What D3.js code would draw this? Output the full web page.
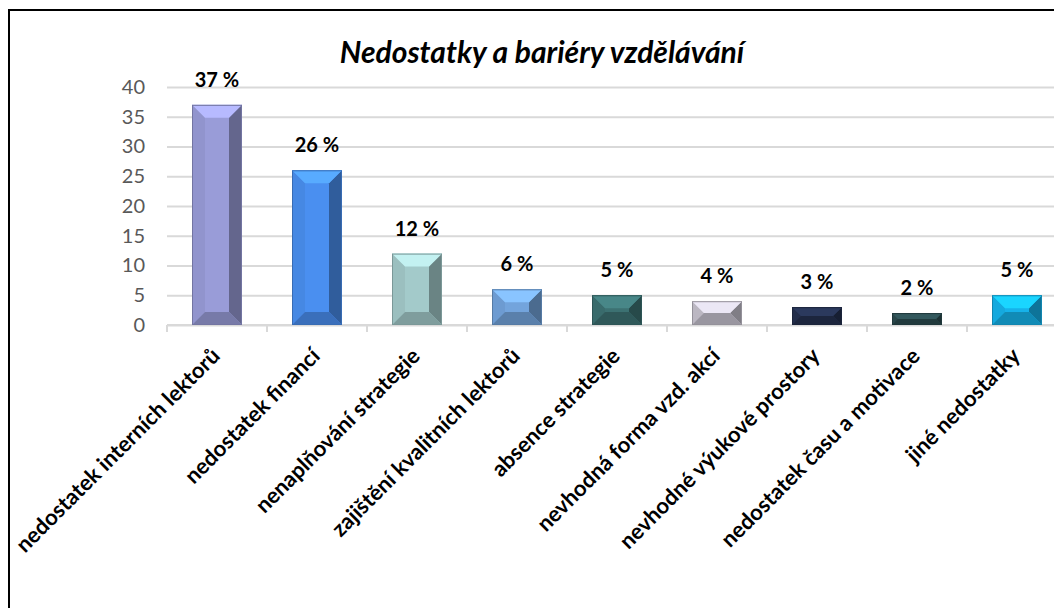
<!DOCTYPE html>
<html>
<head>
<meta charset="utf-8">
<script src="https://cdn.jsdelivr.net/npm/d3@7"></script>
<style>
  body { margin: 0; background: #fff; }
  text { font-family: Lato, "Open Sans", sans-serif; }
</style>
</head>
<body>
<div id="chart"></div>
<script>
// chart data
var categories = [
  "nedostatek interních lektorů",
  "nedostatek financí",
  "nenaplňování strategie",
  "zajištění kvalitních lektorů",
  "absence strategie",
  "nevhodná forma vzd. akcí",
  "nevhodné výukové prostory",
  "nedostatek času a motivace",
  "jiné nedostatky"
];
var values = [37, 26, 12, 6, 5, 4, 3, 2, 5];
var yTicks = [0, 5, 10, 15, 20, 25, 30, 35, 40];
var title = "Nedostatky a bariéry vzdělávání";

// one colour per bar
var palette = ["#999cd8", "#4a8ff0", "#a3caca", "#73a4dc", "#3c7172",
               "#c5c1cd", "#24304e", "#2b4a4e", "#16b2ea"];

var W = 1054, H = 608;
var plot = {left: 167, right: 1067, top: 87, bottom: 325};

var svg = d3.select("#chart")
  .append("svg")
    .attr("width", W)
    .attr("height", H);

// outer frame (cut off on the right and bottom like the original)
svg.append("rect")
  .attr("x", 9)
  .attr("y", 10)
  .attr("width", 1100)
  .attr("height", 700)
  .attr("fill", "white")
  .attr("stroke", "#000")
  .attr("stroke-width", 2);

var x = d3.scaleBand()
  .domain(categories)
  .range([plot.left, plot.right])
  .paddingInner(0.5)
  .paddingOuter(0.25);

var y = d3.scaleLinear()
  .domain([0, 40])
  .range([plot.bottom, plot.top]);

// gridlines + y labels
var yAxis = svg.append("g")
  .attr("transform", "translate(" + plot.left + ",0)")
  .call(d3.axisLeft(y).tickValues(yTicks).tickSize(-(plot.right - plot.left)).tickPadding(22));
yAxis.select(".domain").remove();
yAxis.selectAll(".tick line").attr("stroke", "#d9d9d9").attr("stroke-width", 2);
yAxis.selectAll(".tick text")
  .attr("fill", "#595959")
  .attr("font-size", "20px")
  .style("font-family", "Lato, sans-serif");

// x axis line with ticks between the categories
var xg = svg.append("g");
xg.append("line")
  .attr("x1", plot.left).attr("x2", plot.right)
  .attr("y1", plot.bottom).attr("y2", plot.bottom)
  .attr("stroke", "#d9d9d9").attr("stroke-width", 2);
xg.selectAll(".sep")
  .data(categories)
  .enter()
  .append("line")
    .attr("x1", function(d) { return x(d) - x.step() * 0.25; })
    .attr("x2", function(d) { return x(d) - x.step() * 0.25; })
    .attr("y1", plot.bottom)
    .attr("y2", plot.bottom + 7)
    .attr("stroke", "#d9d9d9")
    .attr("stroke-width", 2);

// bevelled bars
var bars = svg.append("g")
  .selectAll("g")
  .data(values)
  .enter()
  .append("g");

bars.each(function(v, i) {
  var g = d3.select(this);
  var c = d3.color(palette[i]);
  var x0 = x(categories[i]), w = x.bandwidth();
  var y0 = y(v), y1 = y(0), h = y1 - y0;
  var b = Math.min(13, h / 2, w / 2);
  var x1 = x0 + w;

  g.append("rect")
    .attr("x", x0).attr("y", y0)
    .attr("width", w).attr("height", h)
    .attr("fill", c.formatHex());

  var top = [[x0, y0], [x1, y0], [x1 - b, y0 + b], [x0 + b, y0 + b]];
  var bot = [[x0, y1], [x1, y1], [x1 - b, y1 - b], [x0 + b, y1 - b]];
  var left = [[x0, y0], [x0 + b, y0 + b], [x0 + b, y1 - b], [x0, y1]];
  var right = [[x1, y0], [x1 - b, y0 + b], [x1 - b, y1 - b], [x1, y1]];

  var faces = [
    {pts: left, col: c.darker(0.15)},
    {pts: right, col: c.darker(1.2)},
    {pts: bot, col: c.darker(0.7)},
    {pts: top, col: c.brighter(0.5)}
  ];
  faces.forEach(function(f) {
    g.append("polygon")
      .attr("points", f.pts.map(function(p) { return p.join(","); }).join(" "))
      .attr("fill", f.col.formatHex());
  });

  g.append("rect")
    .attr("x", x0 + 0.5).attr("y", y0 + 0.5)
    .attr("width", w - 1).attr("height", h - 1)
    .attr("fill", "none")
    .attr("stroke", c.darker(0.8).formatHex())
    .attr("stroke-width", 1);
});

// value labels
svg.append("g")
  .selectAll("text")
  .data(values)
  .enter()
  .append("text")
    .attr("x", function(d, i) { return x(categories[i]) + x.bandwidth() / 2; })
    .attr("y", function(d) { return y(d) - 18; })
    .attr("text-anchor", "middle")
    .attr("font-size", "20px")
    .attr("font-weight", "bold")
    .attr("fill", "#000")
    .text(function(d) { return d + " %"; });

// category labels, rotated
svg.append("g")
  .selectAll("text")
  .data(categories)
  .enter()
  .append("text")
    .attr("transform", function(d) {
      return "translate(" + (x(d) + x.bandwidth() / 2 - 5) + "," + (plot.bottom + 23) + ") rotate(-45)";
    })
    .attr("text-anchor", "end")
    .attr("dy", "0.6em")
    .attr("font-size", "22px")
    .attr("font-weight", "bold")
    .attr("fill", "#000")
    .text(function(d) { return d; });

// title
svg.append("text")
  .attr("x", 542)
  .attr("y", 63)
  .attr("text-anchor", "middle")
  .attr("font-size", "30px")
  .attr("font-weight", "bold")
  .attr("font-style", "italic")
  .text(title);
</script>
</body>
</html>
